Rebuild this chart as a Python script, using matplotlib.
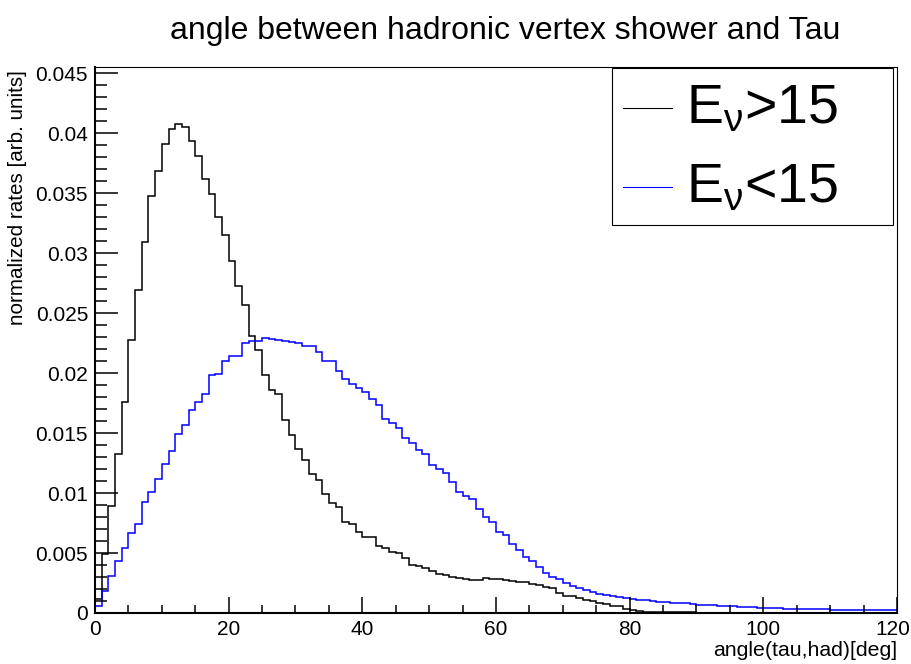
import numpy as np
import matplotlib
matplotlib.use("Agg")
import matplotlib.pyplot as plt
from matplotlib.lines import Line2D
from matplotlib.patches import Rectangle
from matplotlib.transforms import ScaledTranslation

plt.rcParams["font.family"] = ["Liberation Sans", "DejaVu Sans"]
plt.rcParams["mathtext.fontset"] = "custom"
plt.rcParams["mathtext.rm"] = "Liberation Sans"
plt.rcParams["mathtext.it"] = "Liberation Sans"

# 1-degree bins from 0 to 120 deg
bin_edges = np.arange(0, 121)

# E_nu > 15
rate_high = [
    0.0012, 0.00495, 0.00892, 0.01323, 0.01762, 0.02273, 0.02692, 0.03092, 0.03481, 0.03689,
    0.03911, 0.04033, 0.04081, 0.04050, 0.03939, 0.03808, 0.03617, 0.03497, 0.03300, 0.03156,
    0.02939, 0.02731, 0.02573, 0.02308, 0.02197, 0.01989, 0.01864, 0.01828, 0.01608, 0.01483,
    0.01364, 0.01273, 0.01161, 0.01106, 0.00995, 0.00920, 0.00883, 0.00758, 0.00745, 0.00678,
    0.00634, 0.00634, 0.00559, 0.00545, 0.00505, 0.00503, 0.00456, 0.00400, 0.00392, 0.00372,
    0.00350, 0.00322, 0.00314, 0.00303, 0.00292, 0.00281, 0.00272, 0.00272, 0.00289, 0.00284,
    0.00281, 0.00275, 0.00267, 0.00262, 0.00260, 0.00239, 0.00231, 0.00220, 0.00212, 0.00170,
    0.00145, 0.00140, 0.00125, 0.00110, 0.00100, 0.00085, 0.00072, 0.00060, 0.00055, 0.00035,
    0.00025, 0.00018, 0.00012, 0.00009, 0.00008, 0.00007, 0.00006, 0.00006, 0.00005, 0.00005,
    0.00004, 0.00004, 0.00004, 0.00003, 0.00003, 0.00003, 0.00003, 0.00002, 0.00002, 0.00002,
    0.00002, 0.00002, 0.00002, 0.00002, 0.00001, 0.00001, 0.00001, 0.00001, 0.00001, 0.00001,
    0.00001, 0.00001, 0.00001, 0.00001, 0.00001, 0.00001, 0.00001, 0.00001, 0.00001, 0.00001,
]

# E_nu < 15
rate_low = [
    0.00058, 0.00184, 0.00309, 0.00434, 0.00545, 0.00664, 0.00745, 0.00925, 0.01011, 0.01114,
    0.01245, 0.01350, 0.01489, 0.01564, 0.01689, 0.01762, 0.01828, 0.01981, 0.01995, 0.02106,
    0.02145, 0.02145, 0.02253, 0.02267, 0.02267, 0.02295, 0.02287, 0.02281, 0.02267, 0.02262,
    0.02253, 0.02225, 0.02225, 0.02178, 0.02100, 0.02100, 0.02017, 0.01948, 0.01906, 0.01878,
    0.01845, 0.01781, 0.01731, 0.01622, 0.01581, 0.01545, 0.01461, 0.01420, 0.01356, 0.01322,
    0.01233, 0.01203, 0.01170, 0.01095, 0.01008, 0.00975, 0.00953, 0.00864, 0.00800, 0.00758,
    0.00678, 0.00648, 0.00578, 0.00523, 0.00470, 0.00433, 0.00387, 0.00337, 0.00303, 0.00280,
    0.00250, 0.00225, 0.00210, 0.00190, 0.00175, 0.00160, 0.00148, 0.00140, 0.00132, 0.00125,
    0.00115, 0.00110, 0.00105, 0.00100, 0.00095, 0.00090, 0.00087, 0.00084, 0.00080, 0.00077,
    0.00068, 0.00064, 0.00070, 0.00062, 0.00058, 0.00055, 0.00052, 0.00050, 0.00047, 0.00045,
    0.00042, 0.00040, 0.00038, 0.00036, 0.00035, 0.00034, 0.00033, 0.00032, 0.00030, 0.00030,
    0.00029, 0.00028, 0.00027, 0.00026, 0.00025, 0.00024, 0.00024, 0.00023, 0.00022, 0.00022,
]

labels = [r"E$_{\mathrm{\nu}}$>15", r"E$_{\mathrm{\nu}}$<15"]
colors = ["black", "#0000ff"]

fig = plt.figure(figsize=(9.12, 6.64), dpi=100)
ax = fig.add_axes([95 / 912, 1 - 613 / 664, 802 / 912, 546 / 664])

for vals, col in zip([rate_high, rate_low], colors):
    ax.stairs(vals, bin_edges, baseline=None, color=col, linewidth=1.1)

ax.set_xlim(0, 120)
ax.set_ylim(0, 0.04554)
ax.set_xticks(np.arange(0, 121, 20))
ax.set_xticks(np.arange(0, 121, 5), minor=True)
ax.set_yticks(np.arange(0, 0.0451, 0.005))
ax.set_yticks(np.arange(0, 0.0451, 0.001), minor=True)
ax.set_xticklabels([str(v) for v in range(0, 121, 20)])
ax.set_yticklabels(["0"] + ["%g" % v for v in np.arange(0.005, 0.0451, 0.005)])

ax.tick_params(which="both", direction="in", top=False, right=False, labelsize=15, width=1.1)
ax.tick_params(axis="x", which="major", length=11.5, pad=5)
ax.tick_params(axis="x", which="minor", length=5.8)
ax.tick_params(axis="y", which="major", length=16.6, pad=5)
ax.tick_params(axis="y", which="minor", length=8.6)

# keep the last x label inside the canvas
last = ax.get_xticklabels()[-1]
last.set_transform(last.get_transform() + ScaledTranslation(-4 / 100, 0, fig.dpi_scale_trans))

ax.spines["left"].set_linewidth(1.5)
ax.spines["bottom"].set_linewidth(1.5)
ax.spines["top"].set_linewidth(0.8)
ax.spines["right"].set_linewidth(0.8)

fig.text(505 / 912, 1 - 31 / 664, "angle between hadronic vertex shower and Tau",
         fontsize=23, ha="center", va="center")
fig.text(897 / 912, 1 - 651 / 664, "angle(tau,had)[deg]", fontsize=15.3,
         ha="right", va="center")
fig.text(18 / 912, 1 - 70 / 664, "normalized rates [arb. units]", fontsize=14.9,
         rotation=90, ha="center", va="top")

# legend box drawn in figure pixels
fig.patches.append(Rectangle((612 / 912, 1 - 225 / 664), 281 / 912, 157 / 664,
                             transform=fig.transFigure, facecolor="white",
                             edgecolor="black", linewidth=0.8, zorder=5))
for k, (lab, col) in enumerate(zip(labels, colors)):
    yc = 1 - (108 + 79 * k) / 664
    fig.lines.append(Line2D([623 / 912, 672 / 912], [yc, yc], transform=fig.transFigure,
                            color=col, linewidth=0.8, zorder=6))
    fig.text(686 / 912, 1 - (123 + 79 * k) / 664, lab, fontsize=40,
             ha="left", va="baseline", zorder=6)

fig.savefig("out.png", dpi=100)
